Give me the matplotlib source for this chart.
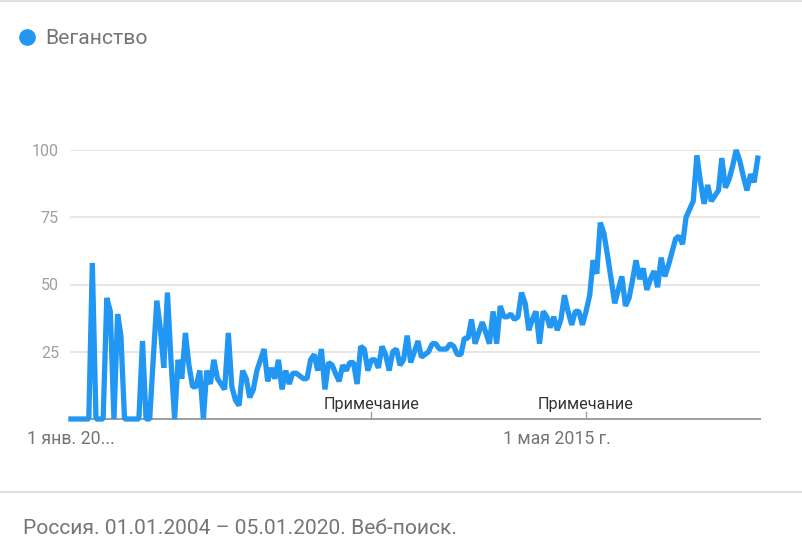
import numpy as np
import pandas as pd
import matplotlib
matplotlib.use('Agg')
import matplotlib.pyplot as plt
from matplotlib.lines import Line2D

plt.rcParams['font.family'] = ['Roboto', 'DejaVu Sans']

SERIES_NAME = 'Веганство'
FOOTER = 'Россия. 01.01.2004 – 05.01.2020. Веб-поиск.'

# monthly interest, Jan 2004 .. Jan 2020 (one row per year)
values = [
    0, 0, 0, 0, 0, 0, 58, 0, 0, 0, 45, 40,          # 2004
    0, 39, 31, 0, 0, 0, 0, 0, 29, 0, 0, 22,         # 2005
    44, 33, 19, 47, 22, 0, 22, 15, 32, 20, 12, 12,  # 2006
    18, 0, 18, 13, 22, 15, 13, 11, 32, 12, 7, 5,    # 2007
    18, 15, 8, 11, 18, 22, 26, 14, 19, 15, 22, 11,  # 2008
    18, 13, 17, 17, 16, 15, 15, 22, 24, 18, 26, 11, # 2009
    21, 20, 17, 14, 20, 18, 21, 21, 13, 27, 26, 18, # 2010
    22, 22, 19, 27, 24, 18, 25, 26, 20, 22, 31, 21, # 2011
    25, 29, 23, 24, 25, 28, 28, 26, 26, 26, 28, 27, # 2012
    24, 24, 30, 30, 37, 28, 32, 36, 32, 28, 40, 28, # 2013
    42, 38, 38, 39, 37, 38, 47, 43, 33, 37, 40, 28, # 2014
    40, 38, 34, 38, 33, 37, 46, 40, 35, 40, 40, 35, # 2015
    40, 46, 59, 54, 73, 69, 61, 52, 43, 48, 53, 42, # 2016
    45, 52, 59, 52, 56, 48, 52, 55, 49, 60, 53, 57, # 2017
    62, 67, 68, 65, 75, 78, 81, 98, 88, 80, 87, 81, # 2018
    83, 85, 97, 86, 89, 94, 100, 96, 90, 85, 91, 88, # 2019
    97,                                             # 2020
]
dates = pd.date_range('2004-01-01', periods=len(values), freq='MS')

y_ticks = [25, 50, 75, 100]
x_tick_dates = [pd.Timestamp('2004-01-01'), pd.Timestamp('2015-05-01')]
x_tick_labels = ['1 янв. 20...', '1 мая 2015 г.']
note_dates = [pd.Timestamp('2011-01-01'), pd.Timestamp('2016-01-01')]
note_label = 'Примечание'

BLUE = '#2196f3'
GRID = '#e0e0e0'
TXT = '#757575'

W, H = 803, 552
fig = plt.figure(figsize=(W / 100, H / 100), dpi=100)

# plot area in pixel coordinates: x 70..760, y 150 (=100) .. 419 (=0)
ax = fig.add_axes([70 / W, (H - 419) / H, 690 / W, 269 / H])
ax.plot(dates, values, color=BLUE, lw=3.8, solid_joinstyle='bevel',
        clip_on=False, zorder=3)

ax.set_ylim(0, 100)
ax.set_xlim(pd.Timestamp('2003-12-24'), pd.Timestamp('2020-01-20'))
ax.set_yticks(y_ticks)
ax.set_yticklabels([str(v) for v in y_ticks])
ax.tick_params(axis='y', length=0, pad=8, labelcolor='#9e9e9e', labelsize=11.5)
ax.grid(axis='y', color=GRID, lw=1.1)
ax.set_axisbelow(True)

ax.set_xticks(x_tick_dates)
ax.set_xticklabels(x_tick_labels)
ax.tick_params(axis='x', length=0, pad=8, labelcolor=TXT, labelsize=12.8)

for s in ['top', 'right', 'left']:
    ax.spines[s].set_visible(False)
ax.spines['bottom'].set_color('#9e9e9e')
ax.spines['bottom'].set_linewidth(1.4)

# annotation markers
tr = ax.get_xaxis_transform()
for d in note_dates:
    ax.plot([d, d], [0, 0.026], transform=tr, color='#9e9e9e', lw=1.0,
            clip_on=False, zorder=2)
    ax.text(d, 0.054, note_label, transform=tr, ha='center', va='center',
            fontsize=11.7, color='#333333')

# legend
fig.add_artist(Line2D([27 / W], [1 - 37 / H], marker='o', markersize=11,
                      color=BLUE, transform=fig.transFigure))
fig.text(45 / W, 1 - 38 / H, SERIES_NAME, ha='left', va='center',
         fontsize=15.2, color=TXT)

# separators
fig.add_artist(Line2D([0, 1], [1 - 1 / H, 1 - 1 / H], color=GRID, lw=1.5,
                      transform=fig.transFigure))
fig.add_artist(Line2D([0, 1], [1 - 492 / H, 1 - 492 / H], color=GRID, lw=1.5,
                      transform=fig.transFigure))

fig.text(23 / W, 1 - 528 / H, FOOTER, ha='left', va='center',
         fontsize=15.1, color=TXT)

fig.savefig('out.png', dpi=100)
